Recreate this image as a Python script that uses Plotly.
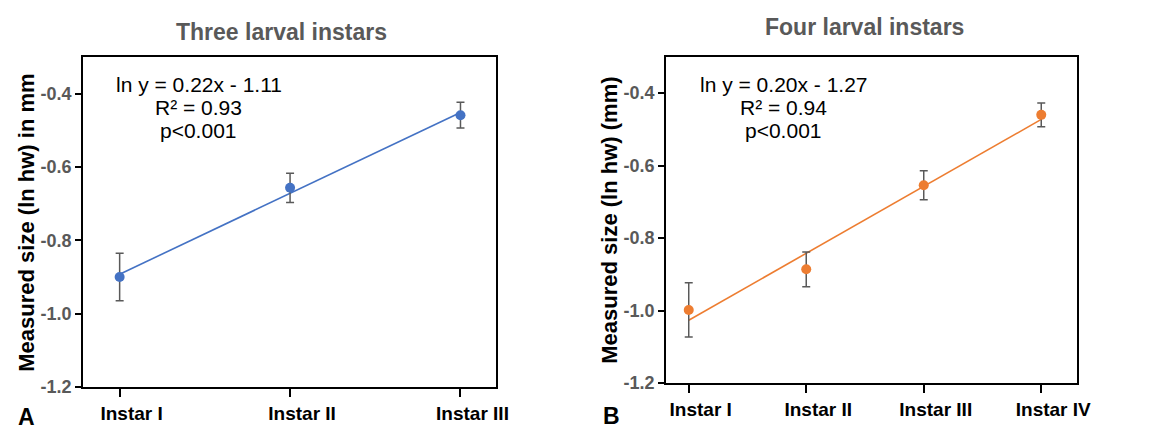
import numpy as np
import plotly.graph_objects as go

# ---- data ----
cats_a = ["Instar I", "Instar II", "Instar III"]
mean_a = [-0.900, -0.657, -0.459]
err_a = [0.065, 0.040, 0.035]

cats_b = ["Instar I", "Instar II", "Instar III", "Instar IV"]
mean_b = [-0.998, -0.886, -0.654, -0.460]
err_b = [0.075, 0.048, 0.040, 0.033]

yticks = [-1.2, -1.0, -0.8, -0.6, -0.4]
ytick_text = ["-1.2", "-1.0", "-0.8", "-0.6", "-0.4"]

title_a = "Three larval instars"
title_b = "Four larval instars"
ytitle_a = "Measured size (ln hw) in mm"
ytitle_b = "Measured size (ln hw) (mm)"
eq_a = ["ln y = 0.22x - 1.11", "R² = 0.93", "p<0.001"]
eq_b = ["ln y = 0.20x - 1.27", "R² = 0.94", "p<0.001"]

BLUE = "#4472C4"
ORANGE = "#ED7D31"
GRAY = "#595959"
FONT = "Liberation Sans, Arial, sans-serif"
W, H = 1173, 434

fig = go.Figure()

def add_panel(cats, means, errs, color, xa, ya):
    xs = np.arange(1, len(cats) + 1)
    slope, icpt = np.polyfit(xs, means, 1)
    xl = np.array([xs[0], xs[-1]])
    fig.add_trace(go.Scatter(x=xl, y=slope * xl + icpt, mode="lines",
                             line=dict(color=color, width=1.6),
                             xaxis=xa, yaxis=ya, showlegend=False, hoverinfo="skip"))
    fig.add_trace(go.Scatter(x=xs, y=means, mode="markers",
                             marker=dict(color=color, size=10),
                             error_y=dict(type="data", array=errs, color=GRAY,
                                          thickness=1.5, width=4),
                             xaxis=xa, yaxis=ya, showlegend=False))

add_panel(cats_a, mean_a, err_a, BLUE, "x", "y")
add_panel(cats_b, mean_b, err_b, ORANGE, "x2", "y2")

def px_x(p):
    return p / W

def px_y(p):
    return 1 - p / H

common_x = dict(showline=True, linecolor="black", linewidth=2, mirror=True,
                ticks="outside", ticklen=8, tickcolor="black", tickwidth=1.5,
                showgrid=False, zeroline=False, ticklabelshift=12,
                tickfont=dict(family=FONT, size=19, color="black", weight="bold"))
common_y = dict(showline=True, linecolor="black", linewidth=2, mirror=True,
                ticks="outside", ticklen=6, tickcolor="black", tickwidth=1.5,
                showgrid=False, zeroline=False, range=[-1.2, -0.3],
                tickvals=yticks, ticktext=ytick_text,
                tickfont=dict(family=FONT, size=18, color=GRAY, weight="bold"))

fig.update_layout(
    width=W, height=H, margin=dict(l=0, r=0, t=0, b=0),
    paper_bgcolor="white", plot_bgcolor="white",
    xaxis=dict(common_x, domain=[px_x(76), px_x(494)], range=[0.7855, 3.209],
               tickvals=list(range(1, len(cats_a) + 1)), ticktext=cats_a, anchor="y"),
    yaxis=dict(common_y, domain=[px_y(388), px_y(50)], anchor="x"),
    xaxis2=dict(common_x, domain=[px_x(666), px_x(1082)], range=[0.807, 4.305],
                tickvals=list(range(1, len(cats_b) + 1)), ticktext=cats_b, anchor="y2"),
    yaxis2=dict(common_y, domain=[px_y(384), px_y(50)], anchor="x2"),
)

ann = []
def text(x, y, s, size, color="black", bold=False, angle=0, xanchor="center"):
    ann.append(dict(x=px_x(x), y=px_y(y), xref="paper", yref="paper", text=s,
                    showarrow=False, xanchor=xanchor, yanchor="middle", textangle=angle,
                    font=dict(family=FONT, size=size, color=color,
                              weight="bold" if bold else "normal")))

text(277, 25, title_a, 23, GRAY, True)
text(867, 19, title_b, 23, GRAY, True)
text(19, 220, ytitle_a, 22, "black", True, -90)
text(608, 217, ytitle_b, 22, "black", True, -90)
for ya, s in zip([78, 102, 125], eq_a):
    text(193, ya, s, 21)
for yb, s in zip([78, 102, 125], eq_b):
    text(785, yb, s, 21)
text(19, 419, "A", 23, "black", True)
text(611, 418, "B", 23, "black", True)

fig.update_layout(annotations=ann)
fig.write_html("out.html")
